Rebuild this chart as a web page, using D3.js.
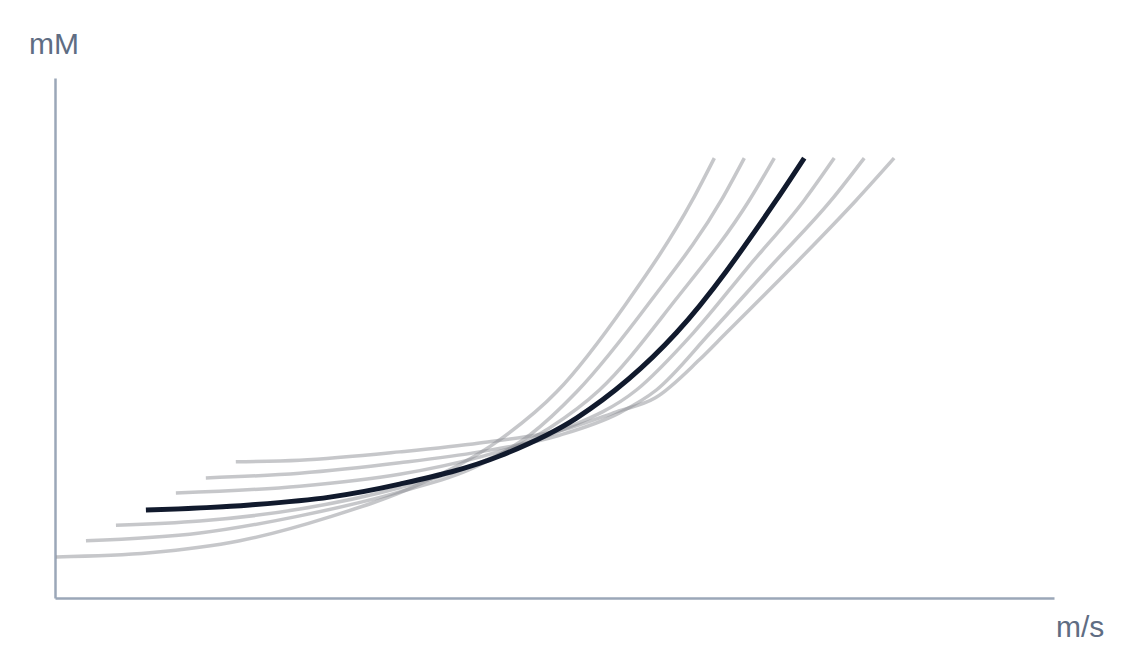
<!DOCTYPE html>
<html>
<head>
<meta charset="utf-8">
<script src="https://cdn.jsdelivr.net/npm/d3@7"></script>
<style>
  body { margin: 0; background: #fff; }
  svg { display: block; }
</style>
</head>
<body>
<svg id="chart"></svg>
<script>
// data: [m/s, mM] pairs for each curve
var curve0 = [[0.1, 7.9], [9.5, 8.7], [18.5, 11.0], [27.5, 15.6], [36.5, 21.9], [44.5, 30.4],
              [50.2, 39.6], [57.2, 56.7], [63.8, 76.5], [66.0, 84.6]];
var curve1 = [[3.1, 11.0], [14.5, 12.5], [24.5, 15.8], [34.5, 20.4], [42.5, 25.6], [47.5, 31.3],
              [52.2, 39.6], [59.7, 57.3], [66.7, 76.5], [69.0, 84.6]];
var curve2 = [[6.1, 14.0], [14.5, 14.8], [24.5, 17.1], [34.5, 21.2], [42.5, 26.0], [49.5, 32.7],
              [54.5, 40.0], [62.1, 57.3], [69.5, 76.5], [72.0, 84.6]];
var curve3 = [[9.1, 16.9], [19.5, 17.9], [27.5, 19.4], [34.5, 21.9], [44.5, 27.3], [52.2, 34.6],
              [62.2, 51.0], [72.2, 76.5], [75.0, 84.6]];
var curve4 = [[12.1, 20.2], [24.5, 21.5], [34.5, 23.8], [42.5, 27.1], [50.5, 32.1], [58.2, 40.0],
              [63.9, 51.0], [69.4, 63.7], [75.0, 76.5], [78.0, 84.6]];
var curve5 = [[15.1, 23.1], [24.5, 24.0], [34.5, 26.0], [42.5, 28.1], [50.5, 31.3], [56.5, 35.6],
              [60.2, 40.0], [65.6, 51.0], [71.6, 63.7], [77.7, 76.5], [81.0, 84.6]];
var curve6 = [[18.1, 26.2], [24.5, 26.5], [34.5, 28.1], [42.5, 29.8], [51.5, 32.7], [56.2, 35.8],
              [60.1, 38.5], [64.5, 45.8], [67.2, 51.0], [73.8, 63.7], [80.2, 76.5], [84.0, 84.6]];

var greyCurves = [curve0, curve1, curve2, curve4, curve5, curve6];
var focusCurve = curve3;

var xLabel = "m/s";
var yLabel = "mM";

var width = 1136;
var height = 669;

var svg = d3.select("#chart")
    .attr("width", width)
    .attr("height", height);

var x = d3.scaleLinear().domain([0, 100]).range([55, 1054]);
var y = d3.scaleLinear().domain([0, 100]).range([598, 78]);

var axisColor = "#9ba7b8";
var textColor = "#5f6d83";

// axes, no ticks
svg.append("g")
    .attr("transform", "translate(0," + y(0) + ")")
    .call(d3.axisBottom(x).ticks(0).tickSizeOuter(0))
    .call(function (g) { g.select(".domain").attr("stroke", axisColor).attr("stroke-width", 2.5); });

svg.append("g")
    .attr("transform", "translate(" + x(0) + ",0)")
    .call(d3.axisLeft(y).ticks(0).tickSizeOuter(0))
    .call(function (g) { g.select(".domain").attr("stroke", axisColor).attr("stroke-width", 2.5); });

var line = d3.line()
    .x(function (d) { return x(d[0]); })
    .y(function (d) { return y(d[1]); })
    .curve(d3.curveMonotoneX);

svg.append("g")
    .selectAll("path")
    .data(greyCurves)
    .enter().append("path")
    .attr("d", line)
    .attr("fill", "none")
    .attr("stroke", "#8e8f95")
    .attr("stroke-opacity", 0.5)
    .attr("stroke-width", 3.5);

svg.append("path")
    .datum(focusCurve)
    .attr("d", line)
    .attr("fill", "none")
    .attr("stroke", "#111a2d")
    .attr("stroke-width", 5);

svg.append("text")
    .attr("x", 29)
    .attr("y", 54)
    .attr("font-family", "Liberation Sans, Arial, sans-serif")
    .attr("font-size", 30)
    .attr("fill", textColor)
    .text(yLabel);

svg.append("text")
    .attr("x", 1056)
    .attr("y", 637)
    .attr("font-family", "Liberation Sans, Arial, sans-serif")
    .attr("font-size", 30)
    .attr("fill", textColor)
    .text(xLabel);
</script>
</body>
</html>
